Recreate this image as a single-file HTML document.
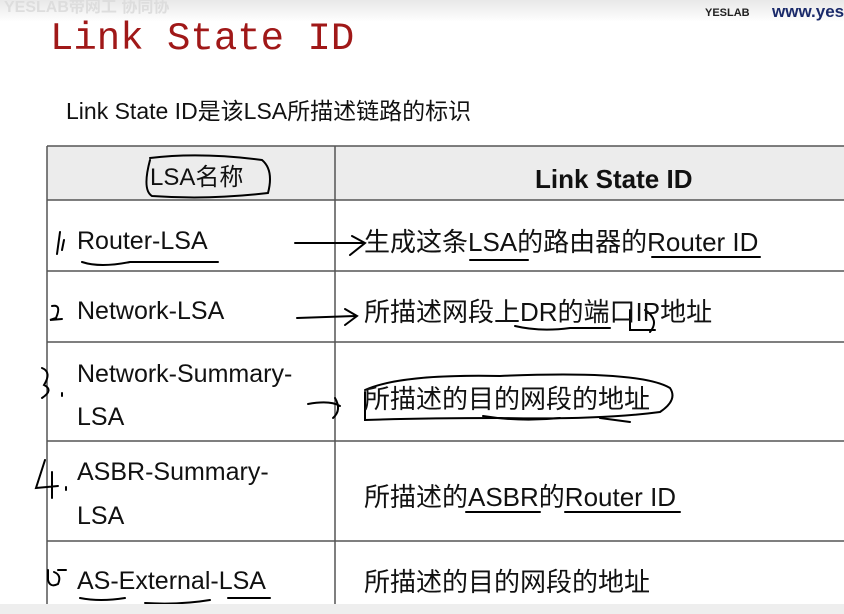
<!DOCTYPE html>
<html><head><meta charset="utf-8"><style>
body{margin:0;width:844px;height:614px;background:#fff;position:relative;overflow:hidden;font-family:"Liberation Sans","Noto Sans CJK SC",sans-serif;}
.t{position:absolute;white-space:nowrap;color:#111;line-height:1;}
.l{font-size:25px}
.r{font-size:26px}
</style></head><body>
<div style="position:absolute;left:0;top:0;width:844px;height:22px;background:linear-gradient(#e8e8e8,#fff)"></div>
<div class="t" style="left:4px;top:0px;font-size:16px;color:#ddd;font-weight:bold">YESLAB带网工 协同协</div>
<div class="t" style="left:705px;top:8px;font-size:11px;font-weight:bold;color:#222">YESLAB</div>
<div class="t" style="left:772px;top:3px;font-size:17px;font-weight:bold;color:#1a2a6a">www.yes</div>
<div class="t" style="left:50px;top:20px;font-size:39px;font-family:'Liberation Mono','Liberation Serif',serif;color:#a01818">Link State ID</div>
<div class="t" style="left:66px;top:100px;font-size:23px">Link State ID是该LSA所描述链路的标识</div>
<div style="position:absolute;left:47px;top:146px;width:800px;height:54px;background:#ececec"></div>
<svg width="844" height="614" style="position:absolute;left:0;top:0">
<g stroke="#555" stroke-width="1.5" fill="none">
<line x1="47" y1="146" x2="844" y2="146"/><line x1="47" y1="200" x2="844" y2="200"/>
<line x1="47" y1="271" x2="844" y2="271"/><line x1="47" y1="342" x2="844" y2="342"/>
<line x1="47" y1="441" x2="844" y2="441"/><line x1="47" y1="541" x2="844" y2="541"/>
<line x1="47" y1="146" x2="47" y2="614"/><line x1="335" y1="146" x2="335" y2="614"/>
</g>
<g stroke="#000" stroke-width="2" fill="none" stroke-linecap="round">
<path d="M150 160 Q142 190 152 196 Q210 200 268 193 Q274 170 262 160 Q200 152 150 158"/>
<path d="M60 232 L57 254 M64 240 L62 250"/>
<path d="M82 262 Q100 268 130 262 L218 262"/>
<path d="M295 243 L362 243 M352 236 L365 243 L350 255"/>
<path d="M470 260 L528 260 M652 257 L760 257"/>
<path d="M52 306 Q62 304 56 318 L50 320 L62 319"/>
<path d="M297 318 L355 316 M345 309 L357 316 L345 325"/>
<path d="M515 326 Q540 332 570 328 L610 328 M630 310 L630 330 L655 330 M645 310 Q660 320 650 332"/>
<path d="M42 368 Q52 372 44 385 Q54 390 42 398 M62 393 L62 396"/>
<path d="M308 404 Q330 400 340 406 M335 398 Q342 410 333 418"/>
<path d="M365 390 Q400 374 500 376 Q640 370 670 388 Q678 400 660 412 Q600 420 500 418 Q420 418 365 420 L365 392"/>
<path d="M483 416 Q520 422 560 418 M600 418 L630 422"/>
<path d="M45 460 L36 488 L58 486 M52 472 L52 498 M66 487 L66 490"/>
<path d="M466 512 L540 512 M565 512 L680 512"/>
<path d="M48 570 L48 580 Q50 588 58 584 Q62 575 54 572 M58 570 L66 570"/>
<path d="M80 598 Q100 602 125 598 M145 603 Q180 605 210 600 M228 598 L270 598"/>
</g>
</svg>
<div class="t" style="left:150px;top:166px;font-size:24px">LSA名称</div>
<div class="t" style="left:535px;top:166px;font-size:26px;font-weight:bold">Link State ID</div>
<div class="t l" style="left:77px;top:229px">Router-LSA</div>
<div class="t l" style="left:77px;top:299px">Network-LSA</div>
<div class="t l" style="left:77px;top:362px">Network-Summary-</div>
<div class="t l" style="left:77px;top:405px">LSA</div>
<div class="t l" style="left:77px;top:460px">ASBR-Summary-</div>
<div class="t l" style="left:77px;top:504px">LSA</div>
<div class="t l" style="left:77px;top:569px">AS-External-LSA</div>
<div class="t r" style="left:364px;top:229px">生成这条LSA的路由器的Router ID</div>
<div class="t r" style="left:364px;top:299px">所描述网段上DR的端口IP地址</div>
<div class="t r" style="left:364px;top:386px">所描述的目的网段的地址</div>
<div class="t r" style="left:364px;top:484px">所描述的ASBR的Router ID</div>
<div class="t r" style="left:364px;top:569px">所描述的目的网段的地址</div>
<div style="position:absolute;left:0;top:604px;width:844px;height:10px;background:#eee"></div>
</body></html>
